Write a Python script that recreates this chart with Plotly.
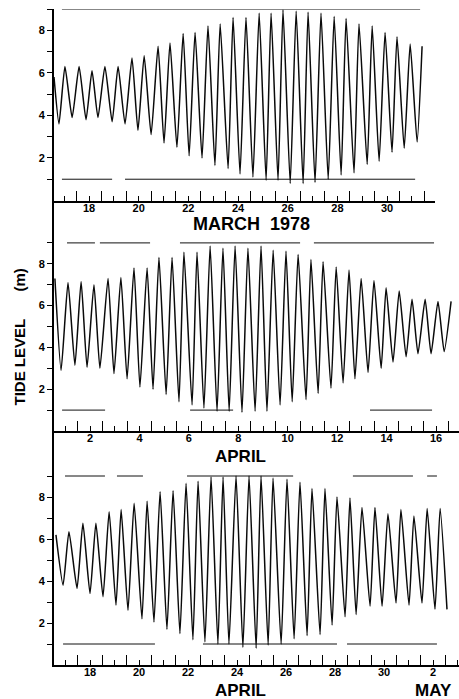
import plotly.graph_objects as go

# ---------------- DATA ----------------
# Time axis in days of the month: tick label D sits at the middle of day D (D + 0.5).
# Panel 1: March 1978 - times of successive turning points and tide level (m)
mar_t = [17.09, 17.29, 17.53, 17.82, 18.10, 18.38, 18.62, 18.86, 19.14, 19.43,
         19.67, 19.95, 20.23, 20.47, 20.72, 21.00, 21.28, 21.52, 21.76, 22.04,
         22.29, 22.53, 22.77, 23.05, 23.29, 23.57, 23.78, 24.10, 24.30, 24.58,
         24.82, 25.10, 25.35, 25.63, 25.83, 26.11, 26.31, 26.60, 26.84, 27.12,
         27.32, 27.60, 27.84, 28.13, 28.37, 28.65, 28.85, 29.17, 29.37, 29.70,
         29.90, 30.18, 30.42, 30.70, 30.90, 31.19, 31.43, 31.71, 31.91]
mar_h = [5.8, 3.6, 6.3, 3.9, 6.3, 3.8, 6.1, 3.9, 6.3, 3.7,
         6.3, 3.6, 6.7, 3.3, 6.8, 3.1, 7.25, 2.7, 7.4, 2.5,
         7.85, 2.1, 7.9, 2.0, 8.2, 1.65, 8.3, 1.5, 8.6, 1.25,
         8.6, 1.1, 8.8, 0.95, 8.8, 0.95, 8.95, 0.8, 8.9, 0.8,
         8.85, 0.85, 8.8, 1.0, 8.65, 1.2, 8.55, 1.3, 8.3, 1.7,
         8.2, 1.85, 7.9, 2.27, 7.7, 2.45, 7.35, 2.75, 7.25]

# Panel 2: April 1-17
apr_a_t = [1.08, 1.33, 1.61, 1.89, 2.14, 2.38, 2.66, 2.90, 3.23, 3.47,
           3.75, 4.00, 4.28, 4.52, 4.81, 5.05, 5.29, 5.58, 5.82, 6.10,
           6.30, 6.63, 6.83, 7.11, 7.36, 7.64, 7.88, 8.13, 8.37, 8.65,
           8.89, 9.18, 9.42, 9.66, 9.91, 10.19, 10.43, 10.68, 10.92, 11.24,
           11.44, 11.73, 11.93, 12.25, 12.46, 12.74, 12.98, 13.22, 13.47, 13.75,
           13.99, 14.28, 14.48, 14.76, 15.01, 15.29, 15.53, 15.77, 16.06, 16.30,
           16.58, 16.83, 17.11]
apr_a_h = [7.3, 2.9, 7.1, 3.15, 7.15, 3.05, 7.0, 3.0, 7.3, 2.75,
           7.35, 2.5, 7.8, 2.1, 7.8, 2.0, 8.3, 1.75, 8.3, 1.4,
           8.55, 1.25, 8.55, 1.1, 8.85, 0.95, 8.75, 0.95, 8.85, 0.9,
           8.75, 0.95, 8.85, 0.95, 8.65, 1.25, 8.6, 1.4, 8.45, 1.5,
           8.2, 1.8, 8.1, 2.05, 7.85, 2.3, 7.7, 2.5, 7.3, 2.8,
           7.2, 3.0, 6.85, 3.3, 6.7, 3.55, 6.3, 3.7, 6.3, 3.7,
           6.2, 3.8, 6.2]

# Panel 3: April 17 - May 3 (days counted on from April; 31 = May 1)
apr_b_t = [17.11, 17.40, 17.64, 17.97, 18.21, 18.50, 18.74, 19.03, 19.28, 19.56,
           19.77, 20.05, 20.30, 20.62, 20.83, 21.11, 21.36, 21.64, 21.89, 22.17,
           22.42, 22.70, 22.91, 23.19, 23.44, 23.72, 23.93, 24.17, 24.46, 24.74,
           24.99, 25.28, 25.48, 25.77, 25.97, 26.30, 26.54, 26.83, 27.07, 27.36,
           27.56, 27.89, 28.09, 28.38, 28.58, 28.91, 29.11, 29.36, 29.60, 29.93,
           30.13, 30.42, 30.66, 30.99, 31.19, 31.52, 31.72, 32.05, 32.26, 32.58,
           32.79, 33.07]
apr_b_h = [6.2, 3.8, 6.35, 3.65, 6.75, 3.4, 6.75, 3.25, 7.3, 2.85,
           7.4, 2.6, 7.7, 2.2, 7.8, 2.05, 8.25, 1.7, 8.3, 1.5,
           8.65, 1.2, 8.75, 1.1, 8.95, 1.0, 8.95, 1.0, 9.0, 0.85,
           9.0, 0.8, 9.0, 0.95, 8.9, 1.0, 8.85, 1.25, 8.7, 1.4,
           8.4, 1.45, 8.4, 1.9, 8.0, 2.3, 7.95, 2.4, 7.5, 2.8,
           7.5, 2.8, 7.2, 2.95, 7.4, 2.85, 7.1, 2.95, 7.45, 2.65,
           7.45, 2.65]

# Reference levels (m) and the visible pieces of those lines [start_day, end_day]
upper_level = 9.0
lower_level = 1.0
mar_upper = [[17.41, 31.83]]
mar_lower = [[17.41, 19.43], [19.95, 31.63]]
apr_a_upper = [[1.57, 2.70], [2.90, 4.93], [6.14, 11.00], [11.56, 16.42]]
apr_a_lower = [[1.37, 3.11], [6.55, 8.29], [13.83, 16.34]]
apr_b_upper = [[17.48, 19.11], [19.60, 20.66], [22.46, 26.79], [29.23, 31.68], [32.26, 32.66]]
apr_b_lower = [[17.40, 21.15], [23.11, 28.58], [28.99, 32.66]]

# Tick labels (labelled days)
mar_tick_days = [18, 20, 22, 24, 26, 28, 30]
mar_tick_text = ["18", "20", "22", "24", "26", "28", "30"]
apr_a_tick_days = [2, 4, 6, 8, 10, 12, 14, 16]
apr_a_tick_text = ["2", "4", "6", "8", "10", "12", "14", "16"]
apr_b_tick_days = [18, 20, 22, 24, 26, 28, 30, 32]
apr_b_tick_text = ["18", "20", "22", "24", "26", "28", "30", "2"]

y_tick_vals = [1, 2, 3, 4, 5, 6, 7, 8, 9]
y_tick_text = ["", "2", "", "4", "", "6", "", "8", ""]

# ---------------- FIGURE ----------------
FONT = "Liberation Sans, Arial, Helvetica, sans-serif"
W, H = 459, 699
ML, MR, MT, MB = 54, 0, 9, 34
PW, PH = W - ML - MR, H - MT - MB


def py(px):  # pixel row -> paper y
    return (H - MB - px) / PH


def pxx(px):  # pixel column -> paper x
    return (px - ML) / PW


panels = [
    dict(t=mar_t, h=mar_h, up=mar_upper, lo=mar_lower, xr=[17.09, 32.43],
         dx=[0, pxx(435)], dy=[py(200.5), 1.0], yr=[0, 9.0],
         td=mar_tick_days, tt=mar_tick_text),
    dict(t=apr_a_t, h=apr_a_h, up=apr_a_upper, lo=apr_a_lower, xr=[1.043, 17.43],
         dx=[0, 1], dy=[py(431), py(200.5)], yr=[0, 230.5 / 20.9],
         td=apr_a_tick_days, tt=apr_a_tick_text),
    dict(t=apr_b_t, h=apr_b_h, up=apr_b_upper, lo=apr_b_lower, xr=[17.03, 33.56],
         dx=[0, 1], dy=[0, py(431)], yr=[0, 234.0 / 21.0],
         td=apr_b_tick_days, tt=apr_b_tick_text),
]

fig = go.Figure()
layout = dict(
    template="none",
    width=W, height=H,
    margin=dict(l=ML, r=MR, t=MT, b=MB, pad=0, autoexpand=False),
    paper_bgcolor="white", plot_bgcolor="white",
    showlegend=False,
    font=dict(family=FONT, color="black"),
)

for i, p in enumerate(panels, start=1):
    xa = "x" if i == 1 else f"x{i}"
    ya = "y" if i == 1 else f"y{i}"
    # reference levels
    for segs, lvl in ((p["up"], upper_level), (p["lo"], lower_level)):
        xs, ys = [], []
        for a, b in segs:
            xs += [a, b, None]
            ys += [lvl, lvl, None]
        fig.add_trace(go.Scatter(x=xs, y=ys, mode="lines", xaxis=xa, yaxis=ya,
                                 line=dict(color="#111111", width=1),
                                 hoverinfo="skip"))
    # tide curve
    fig.add_trace(go.Scatter(x=p["t"], y=p["h"], mode="lines", xaxis=xa, yaxis=ya,
                             line=dict(color="#0a0a0a", width=1.5, shape="spline",
                                       smoothing=0.5),
                             hoverinfo="skip"))

    lo_day = int(p["xr"][0])
    hi_day = int(p["xr"][1])
    lab = dict(zip(p["td"], p["tt"]))
    tv = [d + 0.5 for d in range(lo_day, hi_day + 1)]
    tt = [lab.get(d, "") for d in range(lo_day, hi_day + 1)]

    layout["xaxis" if i == 1 else f"xaxis{i}"] = dict(
        domain=p["dx"], range=p["xr"], anchor=ya, automargin=False,
        showline=True, linecolor="black", linewidth=2,
        showgrid=False, zeroline=False,
        ticks="inside", tickmode="array", tickvals=tv, ticktext=tt,
        ticklen=5, tickwidth=1.3, tickcolor="black",
        ticklabelstandoff=-4,
        minor=dict(ticks="inside", tickmode="linear", tick0=0, dtick=1,
                   ticklen=10, tickwidth=1.3, tickcolor="black", showgrid=False),
        tickfont=dict(family=FONT, size=11, color="black", weight="bold"),
        fixedrange=True,
    )
    layout["yaxis" if i == 1 else f"yaxis{i}"] = dict(
        domain=p["dy"], range=p["yr"], anchor=xa, automargin=False,
        showline=True, linecolor="black", linewidth=2,
        showgrid=False, zeroline=False,
        ticks="outside", tickmode="array", tickvals=y_tick_vals, ticktext=y_tick_text,
        ticklen=5, tickwidth=1.3, tickcolor="black",
        tickfont=dict(family=FONT, size=11, color="black", weight="bold"),
        fixedrange=True,
    )

bold = dict(family=FONT, color="black", weight="bold")
layout["annotations"] = [
    dict(text="MARCH  1978", x=pxx(251), y=py(224), xref="paper", yref="paper",
         showarrow=False, xanchor="center", yanchor="middle", font=dict(size=18, **bold)),
    dict(text="APRIL", x=pxx(240), y=py(457), xref="paper", yref="paper",
         showarrow=False, xanchor="center", yanchor="middle", font=dict(size=17, **bold)),
    dict(text="APRIL", x=pxx(240), y=py(690), xref="paper", yref="paper",
         showarrow=False, xanchor="center", yanchor="middle", font=dict(size=17, **bold)),
    dict(text="MAY", x=pxx(433), y=py(690), xref="paper", yref="paper",
         showarrow=False, xanchor="center", yanchor="middle", font=dict(size=17, **bold)),
    dict(text="TIDE LEVEL", x=pxx(19), y=py(362.5), xref="paper", yref="paper",
         showarrow=False, xanchor="center", yanchor="middle", textangle=-90,
         font=dict(size=15, **bold)),
    dict(text="(m)", x=pxx(19), y=py(280.5), xref="paper", yref="paper",
         showarrow=False, xanchor="center", yanchor="middle", textangle=-90,
         font=dict(size=15, **bold)),
]

fig.update_layout(**layout)
fig.write_html(
    "out.html",
    config={"displayModeBar": False},
    post_script="document.body.style.margin='0';document.body.style.overflow='hidden';",
)
